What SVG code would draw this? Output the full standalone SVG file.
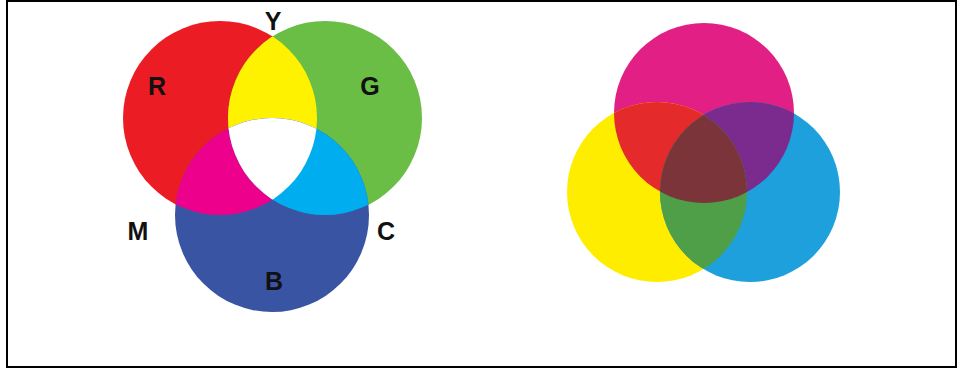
<svg xmlns="http://www.w3.org/2000/svg" width="957" height="370" viewBox="0 0 957 370">
<style>
.lbl{font-family:"Liberation Sans",Arial,sans-serif;font-weight:bold;font-size:25px;fill:#111;text-anchor:middle}
</style>
<defs>
<clipPath id="cR"><circle cx="220" cy="118" r="97"/></clipPath>
<clipPath id="cG"><circle cx="325" cy="118" r="97"/></clipPath>
<clipPath id="cB"><circle cx="272" cy="215" r="97"/></clipPath>
<clipPath id="cM"><circle cx="704" cy="113" r="90"/></clipPath>
<clipPath id="cY"><circle cx="657" cy="192" r="90"/></clipPath>
<clipPath id="cC"><circle cx="750" cy="192" r="90"/></clipPath>
</defs>
<rect x="0" y="0" width="957" height="370" fill="#ffffff"/>
<rect x="7" y="1" width="949" height="366" fill="none" stroke="#000" stroke-width="2"/>
<g id="rgb">
<circle cx="220" cy="118" r="97" fill="#ec1c24"/>
<circle cx="325" cy="118" r="97" fill="#6abd45"/>
<circle cx="272" cy="215" r="97" fill="#3a54a4"/>
<g clip-path="url(#cR)"><circle cx="325" cy="118" r="97" fill="#fff200"/><circle cx="272" cy="215" r="97" fill="#ec008c"/></g>
<g clip-path="url(#cG)"><circle cx="272" cy="215" r="97" fill="#00aeef"/></g>
<g clip-path="url(#cR)"><g clip-path="url(#cG)"><circle cx="272" cy="215" r="97" fill="#ffffff"/></g></g>
</g>
<g id="labels">
<text class="lbl" x="273" y="30">Y</text>
<text class="lbl" x="157" y="95">R</text>
<text class="lbl" x="370" y="95">G</text>
<text class="lbl" x="138" y="240">M</text>
<text class="lbl" x="386" y="240">C</text>
<text class="lbl" x="274" y="290">B</text>
</g>
<g id="cmy">
<circle cx="704" cy="113" r="90" fill="#e21f84"/>
<circle cx="657" cy="192" r="90" fill="#ffed00"/>
<circle cx="750" cy="192" r="90" fill="#1ea0dc"/>
<g clip-path="url(#cM)"><circle cx="657" cy="192" r="90" fill="#e42a2a"/><circle cx="750" cy="192" r="90" fill="#7a2b8d"/></g>
<g clip-path="url(#cY)"><circle cx="750" cy="192" r="90" fill="#4f9f48"/></g>
<g clip-path="url(#cM)"><g clip-path="url(#cY)"><circle cx="750" cy="192" r="90" fill="#7b3439"/></g></g>
</g>
</svg>
